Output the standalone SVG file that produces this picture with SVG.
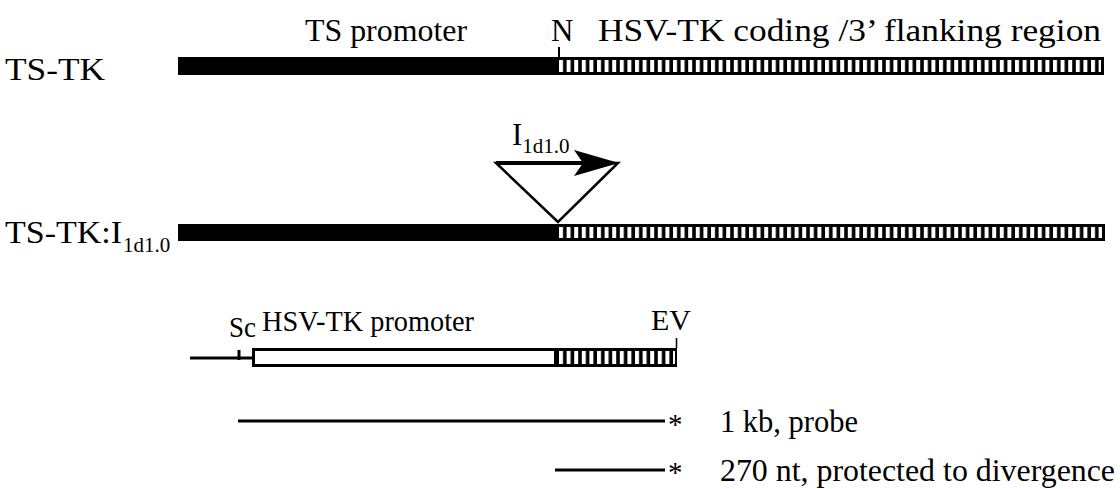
<svg xmlns="http://www.w3.org/2000/svg" width="1120" height="489" viewBox="0 0 1120 489">
<style>
text{font-family:"Liberation Serif","Times New Roman",serif;font-size:31px;fill:#000}
.sub{font-size:21px}
.mid{font-size:30px}
.ast{font-size:29px}
.ln{stroke:#000;stroke-width:3;fill:none}
</style>
<defs>
<pattern id="stripes" patternUnits="userSpaceOnUse" x="559" y="0" width="7.6" height="500">
<rect x="0" y="0" width="4" height="500" fill="#fff"/>
</pattern>
</defs>
<rect width="1120" height="489" fill="#fff"/>

<g id="labels-top">
<text x="305" y="41" textLength="162" lengthAdjust="spacingAndGlyphs">TS promoter</text>
<text x="551" y="41">N</text>
<text x="598" y="41" textLength="503" lengthAdjust="spacingAndGlyphs">HSV-TK coding /3’ flanking region</text>
</g>

<g id="ts-tk">
<text x="5" y="80" textLength="100" lengthAdjust="spacingAndGlyphs">TS-TK</text>
<rect x="178" y="57" width="379" height="18" fill="#000"/>
<rect x="557" y="57" width="547" height="18" fill="#000"/>
<rect x="559" y="60" width="542" height="12" fill="url(#stripes)"/>
<line x1="559" y1="47" x2="559" y2="57" stroke="#000" stroke-width="2"/>
</g>

<g id="insert">
<text x="512" y="145">I<tspan class="sub" dy="8">1d1.0</tspan></text>
<polygon points="496,163 618,163 558,222" fill="#fff" stroke="#000" stroke-width="2.5" stroke-linejoin="miter"/>
<line x1="496" y1="163" x2="584" y2="163" stroke="#000" stroke-width="4"/>
<polygon points="574,150 619,163 574,176 583,163" fill="#000"/>
</g>

<g id="ts-tk-i">
<text x="5" y="243"><tspan textLength="117" lengthAdjust="spacingAndGlyphs">TS-TK:I</tspan><tspan class="sub" x="123" dy="9">1d1.0</tspan></text>
<rect x="178" y="224" width="379" height="17" fill="#000"/>
<rect x="557" y="224" width="548" height="17" fill="#000"/>
<rect x="559" y="227" width="543" height="11" fill="url(#stripes)"/>
</g>

<g id="hsv-tk">
<text class="mid" x="229" y="337" textLength="27" lengthAdjust="spacingAndGlyphs">Sc</text>
<text class="mid" x="262" y="331" textLength="212" lengthAdjust="spacingAndGlyphs">HSV-TK promoter</text>
<text class="mid" x="651" y="330">EV</text>
<line x1="190" y1="358" x2="252" y2="358" class="ln" stroke-width="2"/>
<line x1="239" y1="350" x2="239" y2="360" class="ln" stroke-width="2"/>
<rect x="253.5" y="349.5" width="302" height="16" fill="#fff" stroke="#000" stroke-width="3"/>
<rect x="555" y="348" width="122" height="19" fill="#000"/>
<rect x="557" y="351" width="118" height="13" fill="url(#stripes)"/>
<line x1="676.5" y1="338" x2="676.5" y2="348" stroke="#000" stroke-width="1.5"/>
</g>

<g id="connectors">
<line x1="238" y1="421" x2="665" y2="421" class="ln"/>
<line x1="555" y1="470" x2="665" y2="470" class="ln"/>
</g>

<g id="legend">
<text class="ast" x="668" y="434">*</text>
<text x="720" y="432" textLength="138" lengthAdjust="spacingAndGlyphs">1 kb, probe</text>
<text class="ast" x="668" y="482">*</text>
<text x="720" y="481" textLength="395" lengthAdjust="spacingAndGlyphs">270 nt, protected to divergence</text>
</g>
</svg>
